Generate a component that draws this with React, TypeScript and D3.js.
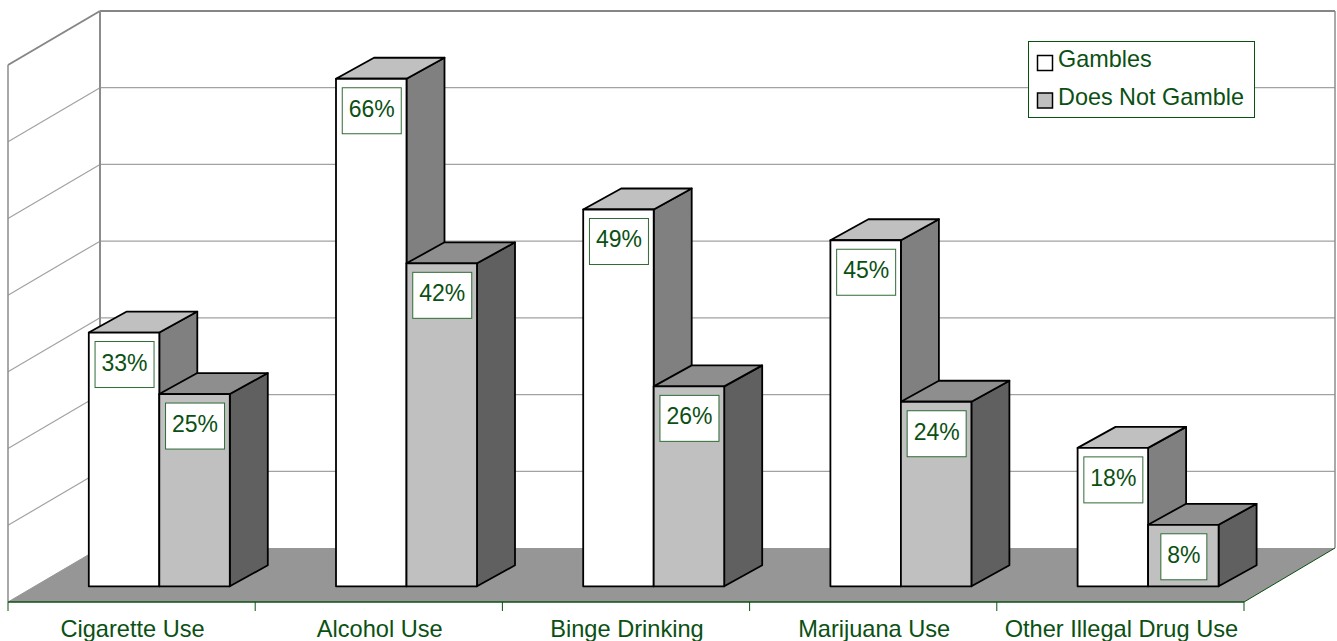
import React from "react";
import * as d3 from "d3";

const categories = ["Cigarette Use", "Alcohol Use", "Binge Drinking", "Marijuana Use", "Other Illegal Drug Use"];
const seriesNames = ["Gambles", "Does Not Gamble"];
const gambles = [33, 66, 49, 45, 18];
const doesNotGamble = [25, 42, 26, 24, 8];
const gridValues = [0, 10, 20, 30, 40, 50, 60, 70];

const GREEN = "#0b5013";
const FONT = "'Liberation Sans', Arial, sans-serif";
const floorDX = 92, floorDY = 54;
const frontX0 = 8, frontX1 = 1244, frontY = 602;
const barDX = 38, barDY = 21, barShift = 27.7, baseY = 586.3, unit = 7.69;

const faces = [
  { front: "#ffffff", top: "#c0c0c0", side: "#808080" },
  { front: "#c0c0c0", top: "#8e8e8e", side: "#606060" },
];

export default function App() {
  const x = d3.scaleBand<string>().domain(categories).range([frontX0, frontX1]);
  const sub = d3.scaleBand<string>().domain(seriesNames).range([-70.5, 70.5]);
  const y = d3.scaleLinear().domain([0, 70]).range([baseY, baseY - 70 * unit]);
  const wallY = d3.scaleLinear().domain([0, 70]).range([frontY - floorDY, 11]);
  const poly = (pts: [number, number][]) => d3.line()(pts) + "Z";
  const series = [gambles, doesNotGamble];

  return (
    <svg width={1337} height={641} style={{ position: "absolute", left: 0, top: 0, display: "block" }} fontFamily={FONT}>
      <rect width={1337} height={641} fill="#fff" />
      {/* floor */}
      <path d={poly([[frontX0, frontY], [frontX0 + floorDX, frontY - floorDY], [1335, frontY - floorDY], [frontX1, frontY]])} fill="#969696" />
      {/* walls and grid */}
      {gridValues.slice(1).map((v) => (
        <g key={v} stroke={v === 70 ? "#868686" : "#a2a2a2"} strokeWidth={v === 70 ? 2 : 1.2} fill="none">
          <line x1={frontX0} y1={wallY(v) + floorDY} x2={frontX0 + floorDX} y2={wallY(v)} />
          <line x1={frontX0 + floorDX} y1={wallY(v)} x2={1335} y2={wallY(v)} />
        </g>
      ))}
      <line x1={frontX0} y1={frontY} x2={frontX0} y2={wallY(70) + floorDY} stroke="#8c8c8c" strokeWidth={1.5} />
      <line x1={frontX0 + floorDX} y1={wallY(0)} x2={frontX0 + floorDX} y2={wallY(70)} stroke="#8c8c8c" strokeWidth={2} />
      <line x1={1335} y1={wallY(0)} x2={1335} y2={wallY(70)} stroke="#8c8c8c" strokeWidth={1.5} />
      <line x1={frontX0} y1={frontY} x2={frontX0 + floorDX} y2={wallY(0)} stroke="#969696" />
      {/* axis */}
      <line x1={frontX0} y1={frontY} x2={frontX1} y2={frontY} stroke={GREEN} strokeWidth={1.5} />
      <line x1={frontX1} y1={frontY} x2={1335} y2={wallY(0)} stroke={GREEN} strokeWidth={1} />
      {categories.map((c) => (
        <line key={c} x1={x(c)!} x2={x(c)!} y1={frontY} y2={611} stroke={GREEN} />
      ))}
      <line x1={frontX1} x2={frontX1} y1={frontY} y2={611} stroke={GREEN} />
      {categories.map((c) => (
        <text key={c} x={x(c)! + x.bandwidth() / 2 + 1} y={637} textAnchor="middle" fontSize={23.6} fill={GREEN}>{c}</text>
      ))}
      {/* bars */}
      {categories.map((c, i) => {
        const center = x(c)! + x.bandwidth() / 2 + barShift;
        return (
          <g key={c}>
            {seriesNames.map((s, k) => {
              const v = series[k][i];
              const x0 = center + sub(s)!;
              const x1 = x0 + sub.bandwidth();
              const t = y(v);
              const f = faces[k];
              return (
                <g key={s} stroke="#000" strokeWidth={1.8} strokeLinejoin="round">
                  <path d={poly([[x1, baseY], [x1 + barDX, baseY - barDY], [x1 + barDX, t - barDY], [x1, t]])} fill={f.side} />
                  <path d={poly([[x0, t], [x0 + barDX, t - barDY], [x1 + barDX, t - barDY], [x1, t]])} fill={f.top} />
                  <rect x={x0} y={t} width={x1 - x0} height={baseY - t} fill={f.front} />
                </g>
              );
            })}
          </g>
        );
      })}
      {/* data labels */}
      {categories.map((c, i) => {
        const center = x(c)! + x.bandwidth() / 2 + barShift;
        return seriesNames.map((s, k) => {
          const v = series[k][i];
          const cx = center + sub(s)! + sub.bandwidth() / 2 + 0.5;
          const w = v < 10 ? 46 : 59;
          const t = y(v) + 9;
          return (
            <g key={s}>
              <rect x={cx - w / 2} y={t} width={w} height={46} fill="#fff" stroke="#2f6b35" strokeWidth={1} />
              <text x={cx} y={t + 29} textAnchor="middle" fontSize={23} fill={GREEN}>{v}%</text>
            </g>
          );
        });
      })}
      {/* legend */}
      <rect x={1028.5} y={41.5} width={226} height={76} fill="#fff" stroke={GREEN} />
      {seriesNames.map((s, k) => (
        <g key={s}>
          <rect x={1037.5} y={55.5 + k * 37.5} width={15} height={15} fill={faces[k].front} stroke="#000" strokeWidth={1.5} />
          <text x={1058} y={67 + k * 38} fontSize={23.4} fill={GREEN}>{s}</text>
        </g>
      ))}
    </svg>
  );
}
